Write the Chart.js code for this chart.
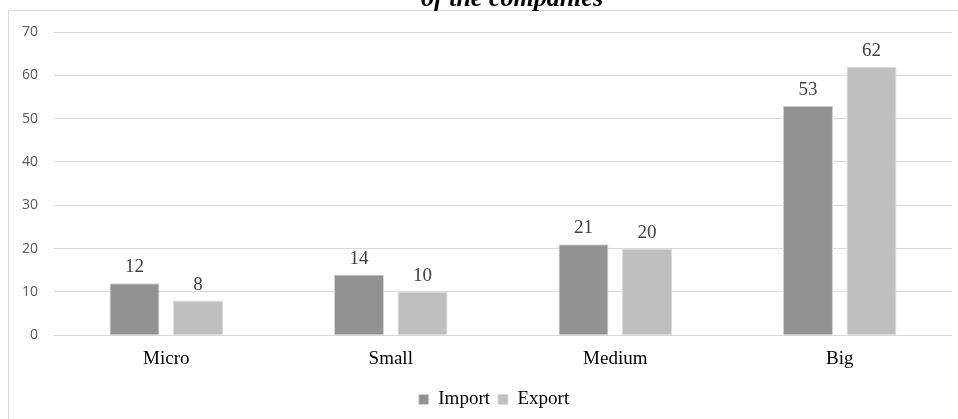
<!DOCTYPE html>
<html>
<head>
<meta charset="utf-8">
<script src="https://cdn.jsdelivr.net/npm/chart.js@4/dist/chart.umd.min.js"></script>
<style>
  html, body { margin: 0; padding: 0; background: #fff; }
  #wrap { width: 958px; height: 419px; position: relative; }
</style>
</head>
<body>
<div id="wrap"><canvas id="chart"></canvas></div>
<script>
// ── Data ─────────────────────────────────────────────────────────────────────
const categories  = ['Micro', 'Small', 'Medium', 'Big'];
const importVals  = [12, 14, 21, 53];
const exportVals  = [8, 10, 20, 62];
const yTicks      = [0, 10, 20, 30, 40, 50, 60, 70];
const titleLine   = 'of the companies';

const SERIF = '"Liberation Serif", "Times New Roman", serif';
const SANS  = '"Open Sans", "Liberation Sans", sans-serif';

// frame + clipped title (first title line is off the top of the picture)
const framePlugin = {
  id: 'frame',
  afterLayout(chart) {
    // legend sits a little right of the canvas centre
    const lg = chart.legend;
    if (lg) { lg.left += 18; lg.right += 18; }
  },
  beforeDraw(chart) {
    const c = chart.ctx;
    c.save();
    c.strokeStyle = '#d9d9d9';
    c.lineWidth = 1;
    c.beginPath();
    c.moveTo(8.5, chart.height);
    c.lineTo(8.5, 10.5);
    c.lineTo(chart.width, 10.5);
    c.stroke();
    c.fillStyle = '#000';
    c.font = 'bold italic 26px ' + SERIF;
    c.textAlign = 'center';
    c.textBaseline = 'alphabetic';
    c.fillText(titleLine, 512, 6);
    c.restore();
  }
};

// value labels above bars
const valuePlugin = {
  id: 'values',
  afterDatasetsDraw(chart) {
    const c = chart.ctx;
    c.save();
    c.fillStyle = '#404040';
    c.font = '19px ' + SERIF;
    c.textAlign = 'center';
    c.textBaseline = 'alphabetic';
    chart.data.datasets.forEach((ds, di) => {
      chart.getDatasetMeta(di).data.forEach((bar, i) => {
        c.fillText(ds.data[i], bar.x, bar.y - 11);
      });
    });
    c.restore();
  }
};

new Chart(document.getElementById('chart'), {
  type: 'bar',
  data: {
    labels: categories,
    datasets: [
      { label: 'Import', data: importVals, backgroundColor: '#929292', borderColor: '#d4d4d4', borderWidth: 1,
        categoryPercentage: 0.566, barPercentage: 0.787 },
      { label: 'Export', data: exportVals, backgroundColor: '#bfbfbf', borderColor: '#dadada', borderWidth: 1,
        categoryPercentage: 0.566, barPercentage: 0.787 }
    ]
  },
  options: {
    responsive: true, maintainAspectRatio: false, animation: false,
    layout: { padding: { top: 32, right: 6, left: 0, bottom: 0 } },
    plugins: {
      legend: {
        position: 'bottom',
        labels: { font: { family: SERIF, size: 19 }, color: '#000', boxWidth: 10, boxHeight: 10, padding: 8 }
      },
      tooltip: { enabled: false }
    },
    scales: {
      x: {
        grid: { display: false, drawTicks: false },
        border: { display: false },
        ticks: { font: { family: SERIF, size: 19 }, color: '#000', padding: 12 }
      },
      y: {
        min: 0, max: 70,
        afterBuildTicks: s => { s.ticks = yTicks.map(v => ({ value: v })); },
        afterFit: s => { s.width = 54; },
        grid: { color: '#d9d9d9', drawTicks: false },
        border: { display: false },
        ticks: { font: { family: SANS, size: 14 }, color: '#595959', padding: 16 }
      }
    }
  },
  plugins: [framePlugin, valuePlugin]
});
</script>
</body>
</html>
